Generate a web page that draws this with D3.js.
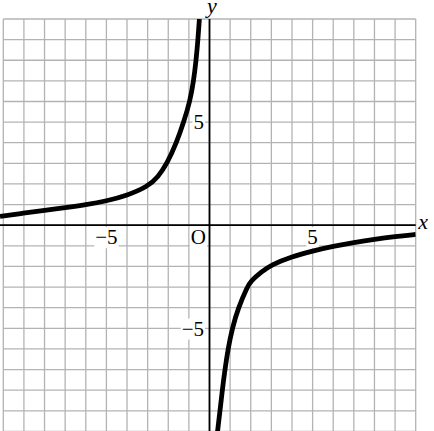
<!DOCTYPE html>
<html>
<head>
<meta charset="utf-8">
<script src="https://cdn.jsdelivr.net/npm/d3@7"></script>
<style>
  html, body { margin: 0; padding: 0; background: #fff; }
  svg { display: block; }
  text { font-family: "Liberation Serif", "Times New Roman", serif; fill: #000; }
</style>
</head>
<body>
<svg id="chart" width="434" height="431"></svg>
<script>
// ---- data ----
const gridValues = d3.range(-10, 11);            // grid lines at every integer
const xTickValues = [-5, 5];
const xTickLabels = ["−5", "5"];
const yTickValues = [5, -5];
const yTickLabels = ["5", "−5"];
const originLabel = "O";
const xAxisLabel = "x";
const yAxisLabel = "y";

// left branch of the curve (x < 0)
const leftX = [-10.16, -9, -8, -7, -6, -5, -4, -3, -2.5, -2.05, -1.6, -1.25, -0.95, -0.77, -0.65, -0.56, -0.49];
const leftY = [0.43, 0.59, 0.72, 0.85, 0.99, 1.17, 1.44, 1.87, 2.33, 3.0, 4.0, 5, 6, 7, 8, 9, 10];
// right branch of the curve (x > 0)
const rightX = [0.39, 0.51, 0.62, 0.75, 0.9, 1.1, 1.4, 1.83, 2, 2.5, 3, 4, 5, 6, 7, 8, 9, 10];
const rightY = [-10, -9, -8, -7, -6, -5, -4, -3, -2.72, -2.28, -1.92, -1.52, -1.25, -1.02, -0.84, -0.68, -0.55, -0.45];

// ---- drawing ----
const svg = d3.select("#chart");
const x = d3.scaleLinear().domain([-10, 10]).range([3.3, 415.7]);
const y = d3.scaleLinear().domain([-10, 10]).range([431.4, 19]);

// grid
const grid = svg.append("g").attr("stroke", "#b3b3b3").attr("stroke-width", 1.3);
grid.selectAll("line.v").data(gridValues).join("line").attr("class", "v")
  .attr("x1", d => x(d)).attr("x2", d => x(d))
  .attr("y1", y(10)).attr("y2", y(-10));
grid.selectAll("line.h").data(gridValues).join("line").attr("class", "h")
  .attr("y1", d => y(d)).attr("y2", d => y(d))
  .attr("x1", x(-10)).attr("x2", x(10));

const labels = [];
xTickValues.forEach((v, i) => labels.push({t: xTickLabels[i], px: x(v), py: y(0) + 19, anchor: "middle"}));
yTickValues.forEach((v, i) => labels.push({t: yTickLabels[i], px: x(0) - 5.5, py: y(v) + 7.3, anchor: "end"}));
labels.push({t: originLabel, px: x(0) - 3.5, py: y(0) + 19, anchor: "end"});

const bgLayer = svg.append("g");
const axisLayer = svg.append("g");
const curveLayer = svg.append("g");
const textLayer = svg.append("g");

const txt = textLayer.selectAll("text.lbl").data(labels).join("text")
  .attr("class", "lbl")
  .attr("x", d => d.px).attr("y", d => d.py)
  .attr("text-anchor", d => d.anchor)
  .attr("font-size", 21)
  .text(d => d.t);

txt.each(function() {
  const b = this.getBBox();
  bgLayer.append("rect")
    .attr("x", b.x - 1).attr("y", b.y + 2)
    .attr("width", b.width + 2).attr("height", b.height - 3)
    .attr("fill", "#fff");
});

// axes
axisLayer.append("line")
  .attr("x1", x(-10.16)).attr("x2", x(10))
  .attr("y1", y(0)).attr("y2", y(0))
  .attr("stroke", "#000").attr("stroke-width", 1.8);
axisLayer.append("line")
  .attr("x1", x(0)).attr("x2", x(0))
  .attr("y1", y(10)).attr("y2", y(-10))
  .attr("stroke", "#000").attr("stroke-width", 1.8);

// axis names
textLayer.append("text")
  .attr("x", x(0) + 2.5).attr("y", 13)
  .attr("text-anchor", "middle")
  .attr("font-size", 22).attr("font-style", "italic")
  .text(yAxisLabel);
textLayer.append("text")
  .attr("x", x(10) + 2.5).attr("y", y(0) + 3.5)
  .attr("text-anchor", "start")
  .attr("font-size", 22).attr("font-style", "italic")
  .text(xAxisLabel);

// curve
svg.append("defs").append("clipPath").attr("id", "clip")
  .append("rect").attr("x", 0).attr("y", y(10)).attr("width", x(10)).attr("height", 431 - y(10) + 5);

const line = d3.line().x(d => x(d[0])).y(d => y(d[1])).curve(d3.curveBasis);
const leftPts = leftX.map((v, i) => [v, leftY[i]]);
const rightPts = rightX.map((v, i) => [v, rightY[i]]);
curveLayer.attr("clip-path", "url(#clip)");
[leftPts, rightPts].forEach(pts => {
  curveLayer.append("path").attr("d", line(pts))
    .attr("fill", "none").attr("stroke", "#000")
    .attr("stroke-width", 4.8).attr("stroke-linecap", "butt").attr("stroke-linejoin", "round");
});
</script>
</body>
</html>
